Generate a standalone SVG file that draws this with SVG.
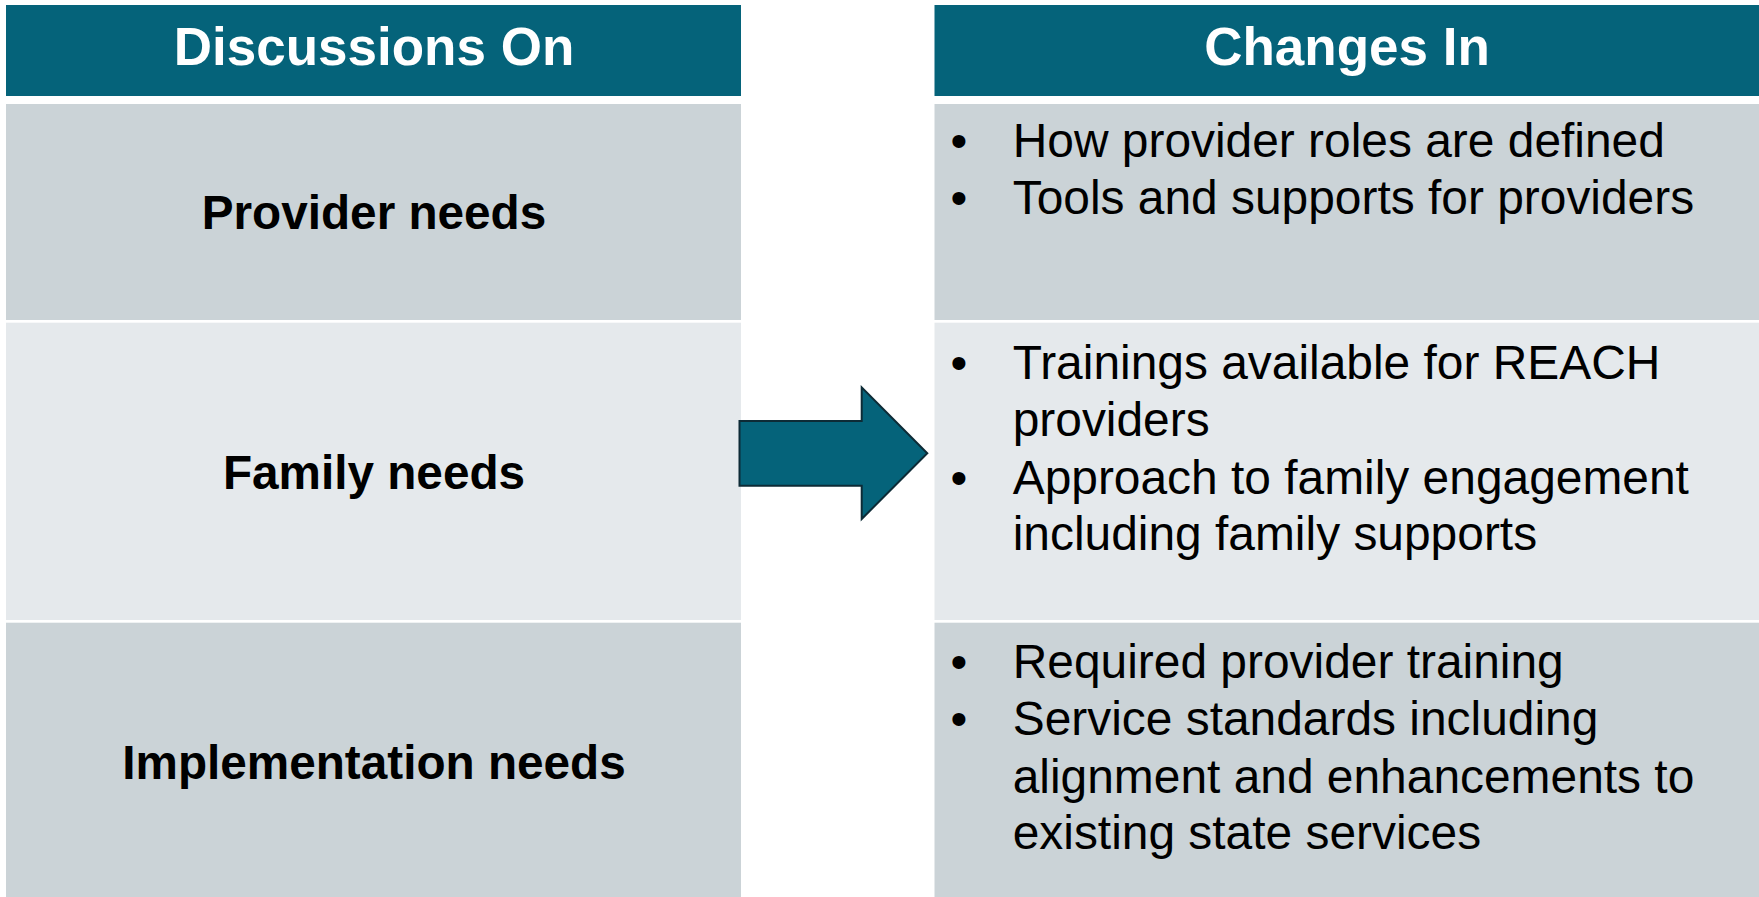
<svg xmlns="http://www.w3.org/2000/svg" width="1759" height="897" viewBox="0 0 1759 897">
<style>
.hdr{fill:#05637A}
.dark{fill:#CBD3D7}
.light{fill:#E5E9EC}
.ht{font-family:"Liberation Sans",Arial,sans-serif;font-weight:bold;font-size:53px;fill:#FFFFFF;text-anchor:middle}
.lt{font-family:"Liberation Sans",Arial,sans-serif;font-weight:bold;font-size:47.7px;fill:#000000;text-anchor:middle}
.bt{font-family:"Liberation Sans",Arial,sans-serif;font-size:47.9px;fill:#000000}
</style>
<rect width="1759" height="897" fill="#FFFFFF"/>
<g id="header-left">
<rect class="hdr" x="6" y="5" width="735" height="91"/>
<text class="ht" x="374" y="65">Discussions On</text>
</g>
<g id="header-right">
<rect class="hdr" x="934.5" y="5" width="824.5" height="91"/>
<text class="ht" x="1347" y="65">Changes In</text>
</g>
<g id="provider-needs">
<rect class="dark" x="6" y="104" width="735" height="216"/>
<text class="lt" x="374" y="229">Provider needs</text>
</g>
<g id="family-needs">
<rect class="light" x="6" y="322.7" width="735" height="297.3"/>
<text class="lt" x="374" y="488.5">Family needs</text>
</g>
<g id="implementation-needs">
<rect class="dark" x="6" y="622.7" width="735" height="274.3"/>
<text class="lt" x="374" y="779">Implementation needs</text>
</g>
<g id="provider-changes">
<rect class="dark" x="934.5" y="104" width="824.5" height="216"/>
<text class="bt" x="950.4" y="157">•</text>
<text class="bt" x="1012.7" y="157">How provider roles are defined</text>
<text class="bt" x="950.4" y="214">•</text>
<text class="bt" x="1012.7" y="214">Tools and supports for providers</text>
</g>
<g id="family-changes">
<rect class="light" x="934.5" y="322.7" width="824.5" height="297.3"/>
<text class="bt" x="950.4" y="379">•</text>
<text class="bt" x="1012.7" y="379">Trainings available for REACH</text>
<text class="bt" x="1012.7" y="436">providers</text>
<text class="bt" x="950.4" y="493.5">•</text>
<text class="bt" x="1012.7" y="493.5">Approach to family engagement</text>
<text class="bt" x="1012.7" y="550.3">including family supports</text>
</g>
<g id="implementation-changes">
<rect class="dark" x="934.5" y="622.7" width="824.5" height="274.3"/>
<text class="bt" x="950.4" y="677.7">•</text>
<text class="bt" x="1012.7" y="677.7">Required provider training</text>
<text class="bt" x="950.4" y="735">•</text>
<text class="bt" x="1012.7" y="735">Service standards including</text>
<text class="bt" x="1012.7" y="792.5">alignment and enhancements to</text>
<text class="bt" x="1012.7" y="849.3">existing state services</text>
</g>
<g id="connectors">
<path d="M739.5,421 L861.7,421 L861.7,387.3 L927.3,453.3 L861.7,519 L861.7,485.7 L739.5,485.7 Z" fill="#05637A" stroke="#0D2B36" stroke-width="2" stroke-linejoin="miter"/>
</g>
</svg>
